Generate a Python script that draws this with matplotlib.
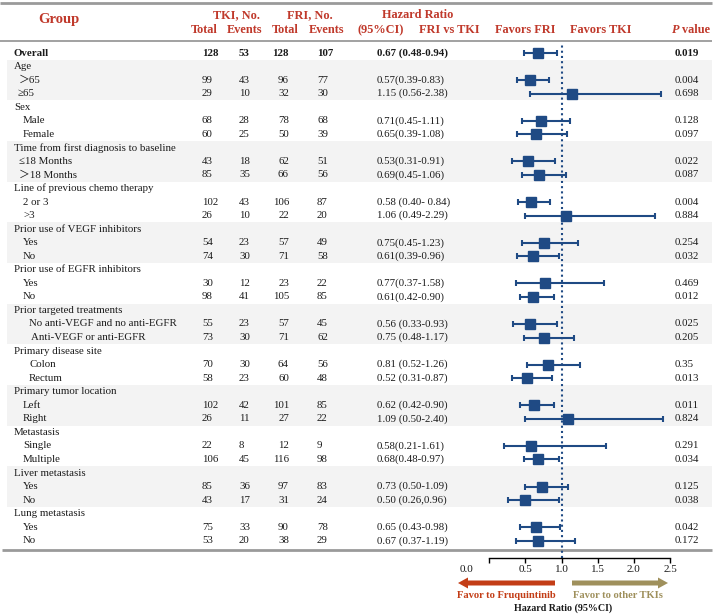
import matplotlib
matplotlib.use('Agg')
import matplotlib.pyplot as plt
from matplotlib.transforms import blended_transform_factory as btf
from matplotlib.patches import Rectangle, FancyArrow

# ---------------- data ----------------
overall = dict(label="Overall", tki_total=128, tki_events=53, fri_total=128, fri_events=107,
               hr=0.67, lo=0.48, hi=0.94, hr_text="0.67 (0.48-0.94)", p_text="0.019")

group_names = ["Age", "Sex", "Time from first diagnosis to baseline", "Line of previous chemo therapy",
               "Prior use of VEGF inhibitors", "Prior use of EGFR inhibitors", "Prior targeted treatments",
               "Primary disease site", "Primary tumor location", "Metastasis", "Liver metastasis",
               "Lung metastasis"]

sub_labels = ["＞65", "≥65", "Male", "Female", "≤18 Months", "＞18 Months", "2 or 3", ">3",
              "Yes", "No", "Yes", "No", "No anti-VEGF and no anti-EGFR", "Anti-VEGF or anti-EGFR",
              "Colon", "Rectum", "Left", "Right", "Single", "Multiple", "Yes", "No", "Yes", "No"]
tki_total = [99, 29, 68, 60, 43, 85, 102, 26, 54, 74, 30, 98, 55, 73, 70, 58, 102, 26, 22, 106, 85, 43, 75, 53]
tki_events = [43, 10, 28, 25, 18, 35, 43, 10, 23, 30, 12, 41, 23, 30, 30, 23, 42, 11, 8, 45, 36, 17, 33, 20]
fri_total = [96, 32, 78, 50, 62, 66, 106, 22, 57, 71, 23, 105, 57, 71, 64, 60, 101, 27, 12, 116, 97, 31, 90, 38]
fri_events = [77, 30, 68, 39, 51, 56, 87, 20, 49, 58, 22, 85, 45, 62, 56, 48, 85, 22, 9, 98, 83, 24, 78, 29]
hr = [0.57, 1.15, 0.71, 0.65, 0.53, 0.69, 0.58, 1.06, 0.75, 0.61, 0.77, 0.61, 0.56, 0.75, 0.81, 0.52,
      0.62, 1.09, 0.58, 0.68, 0.73, 0.50, 0.65, 0.67]
ci_lo = [0.39, 0.56, 0.45, 0.39, 0.31, 0.45, 0.40, 0.49, 0.45, 0.39, 0.37, 0.42, 0.33, 0.48, 0.52, 0.31,
         0.42, 0.50, 0.21, 0.48, 0.50, 0.26, 0.43, 0.37]
ci_hi = [0.83, 2.38, 1.11, 1.08, 0.91, 1.06, 0.84, 2.29, 1.23, 0.96, 1.58, 0.90, 0.93, 1.17, 1.26, 0.87,
         0.90, 2.40, 1.61, 0.97, 1.09, 0.96, 0.98, 1.19]
hr_text = ["0.57(0.39-0.83)", "1.15 (0.56-2.38)", "0.71(0.45-1.11)", "0.65(0.39-1.08)",
           "0.53(0.31-0.91)", "0.69(0.45-1.06)", "0.58 (0.40- 0.84)", "1.06 (0.49-2.29)",
           "0.75(0.45-1.23)", "0.61(0.39-0.96)", "0.77(0.37-1.58)", "0.61(0.42-0.90)",
           "0.56 (0.33-0.93)", "0.75 (0.48-1.17)", "0.81 (0.52-1.26)", "0.52 (0.31-0.87)",
           "0.62 (0.42-0.90)", "1.09 (0.50-2.40)", "0.58(0.21-1.61)", "0.68(0.48-0.97)",
           "0.73 (0.50-1.09)", "0.50 (0.26,0.96)", "0.65 (0.43-0.98)", "0.67 (0.37-1.19)"]
p_text = ["0.004", "0.698", "0.128", "0.097", "0.022", "0.087", "0.004", "0.884", "0.254", "0.032",
          "0.469", "0.012", "0.025", "0.205", "0.35", "0.013", "0.011", "0.824", "0.291", "0.034",
          "0.125", "0.038", "0.042", "0.172"]

x_ticks = [0.0, 0.5, 1.0, 1.5, 2.0, 2.5]
x_ticklabels = ["0.0", "0.5", "1.0", "1.5", "2.0", "2.5"]

# ---------------- layout / style ----------------
sub_indent_px = [19, 18, 23, 23, 19, 19, 23, 23, 23, 23, 23, 23, 29, 31, 29, 29, 23, 23, 23, 23, 23, 23, 23, 23]
FONT = ['Liberation Serif', 'Noto Sans CJK SC', 'DejaVu Sans']
RED = '#c0392b'
BLUE = '#1f4a84'
TXT = '#1a1a1a'
BODY = 7.8
HEAD = 8.8
W, H = 719, 616

fig = plt.figure(figsize=(W / 100, H / 100), dpi=100)
bg = fig.add_axes([0, 0, 1, 1])
bg.set_xlim(0, W)
bg.set_ylim(H, 0)
bg.axis('off')

# forest axes: x 0..2.5 spans px 489.3..670, rows spaced 13.55 px, row0 at px 53
x0_px, x1_px = 489.3, 670.0
top_px, bot_px = 43.0, 558.0
row0_px, step_px = 53.0, 13.55
fa = fig.add_axes([x0_px / W, (H - bot_px) / H, (x1_px - x0_px) / W, (bot_px - top_px) / H])
fa.set_xlim(0, 2.5)
fa.set_ylim((bot_px - row0_px) / step_px, (top_px - row0_px) / step_px)
fa.patch.set_alpha(0)
for s in ['left', 'right', 'top']:
    fa.spines[s].set_visible(False)
fa.spines['bottom'].set_linewidth(1.0)
fa.set_yticks([])
fa.set_xticks(x_ticks)
fa.set_xticklabels([""] + x_ticklabels[1:], family=FONT, fontsize=BODY + 0.2, color=TXT)
fa.tick_params(axis='x', direction='out', length=3.3, width=1.0, pad=1.5)

tr = btf(bg.transData, fa.transData)

# row positions
n_groups = len(group_names)
group_rows = [1 + 3 * g for g in range(n_groups)]
sub_rows = [r for g in range(n_groups) for r in (2 + 3 * g, 3 + 3 * g)]

# shaded bands
for g in range(0, n_groups, 2):
    r0 = group_rows[g] - 0.5
    bg.add_patch(Rectangle((7, r0), 705, 3, transform=tr, facecolor='#f3f3f3', edgecolor='none', zorder=0))

# horizontal rules
bg.plot([0, 712], [2.5, 2.5], color='#9a9a9a', lw=2.0, solid_capstyle='butt')
bg.plot([0, 712], [41, 41], color='#9a9a9a', lw=1.3, solid_capstyle='butt')
bg.plot([2, 712], [549.5, 549.5], color='#9a9a9a', lw=2.0, solid_capstyle='butt')

# header
hk = dict(family=FONT, fontsize=HEAD, fontweight='bold', color=RED, va='center')
bg.text(59, 20, "Group", ha='center', **{**hk, 'fontsize': 10.5})
bg.text(236, 15, "TKI, No.", ha='center', **hk)
bg.text(204, 30, "Total", ha='center', **hk)
bg.text(245, 30, "Events", ha='center', **hk)
bg.text(310, 15, "FRI, No.", ha='center', **hk)
bg.text(285, 30, "Total", ha='center', **hk)
bg.text(327, 30, "Events", ha='center', **hk)
bg.text(418, 15, "Hazard Ratio", ha='center', **hk)
bg.text(358, 30, "(95%CI)", ha='left', **hk)
bg.text(419, 30, "FRI vs TKI", ha='left', **hk)
bg.text(495, 30, "Favors FRI", ha='left', **hk)
bg.text(570, 30, "Favors TKI", ha='left', **hk)
bg.text(672.5, 30, "P", ha='left', style='italic', **hk)
bg.text(682.5, 30, "value", ha='left', **hk)

# body text
def row_text(row, label, x_label, vals, hrt, pt, bold=False):
    kw = dict(family=FONT, fontsize=BODY, color=TXT, va='center', transform=tr,
              fontweight='bold' if bold else 'normal')
    bg.text(x_label, row, label, ha='left', **kw)
    if vals is not None:
        tt, te, ft, fe = vals
        bg.text(202, row, str(tt), ha='left', **kw)
        bg.text(239, row, str(te), ha='left', **kw)
        bg.text(289, row, str(ft), ha='right', **kw)
        bg.text(317, row, str(fe), ha='left', **kw)
        bg.text(377, row, hrt, ha='left', **kw)
        bg.text(675, row, pt, ha='left', **kw)

row_text(0, overall['label'], 14, (overall['tki_total'], overall['tki_events'],
                                   overall['fri_total'], overall['fri_events']),
         overall['hr_text'], overall['p_text'], bold=True)
for g, name in enumerate(group_names):
    row_text(group_rows[g], name, 14, None, None, None)
for k, r in enumerate(sub_rows):
    row_text(r, sub_labels[k], sub_indent_px[k], (tki_total[k], tki_events[k], fri_total[k], fri_events[k]),
             hr_text[k], p_text[k])

# forest marks
all_rows = [0] + sub_rows
all_hr = [overall['hr']] + hr
all_lo = [overall['lo']] + ci_lo
all_hi = [overall['hi']] + ci_hi
xerr = [[h - l for h, l in zip(all_hr, all_lo)], [u - h for h, u in zip(all_hr, all_hi)]]
fa.axvline(1.0, color=BLUE, lw=1.5, ls=(0, (1, 1.5)), zorder=1)
fa.errorbar(all_hr, all_rows, xerr=xerr, fmt='s', color=BLUE, ecolor=BLUE, elinewidth=1.5,
            capsize=2.0, capthick=1.5, markersize=7.6, zorder=3, clip_on=False)

# bottom axis annotations
bg.text(466, 570, x_ticklabels[0], ha='center', va='center', family=FONT, fontsize=BODY + 0.2, color=TXT)
bg.add_patch(FancyArrow(555, 583, -97, 0, width=5, head_width=11, head_length=10,
                        length_includes_head=True, color='#c33d16', lw=0))
bg.add_patch(FancyArrow(572, 583, 96, 0, width=5, head_width=11, head_length=10,
                        length_includes_head=True, color='#9f905c', lw=0))
bg.text(506, 595.5, "Favor to Fruquintinib", ha='center', va='center', family=FONT, fontsize=7.6,
        fontweight='bold', color='#c33d16')
bg.text(617.5, 595.5, "Favor to other TKIs", ha='center', va='center', family=FONT, fontsize=7.6,
        fontweight='bold', color='#9f905c')
bg.text(563, 608.5, "Hazard Ratio (95%CI)", ha='center', va='center', family=FONT, fontsize=7.2,
        fontweight='bold', color=TXT)

fig.savefig('out.png', dpi=100)
